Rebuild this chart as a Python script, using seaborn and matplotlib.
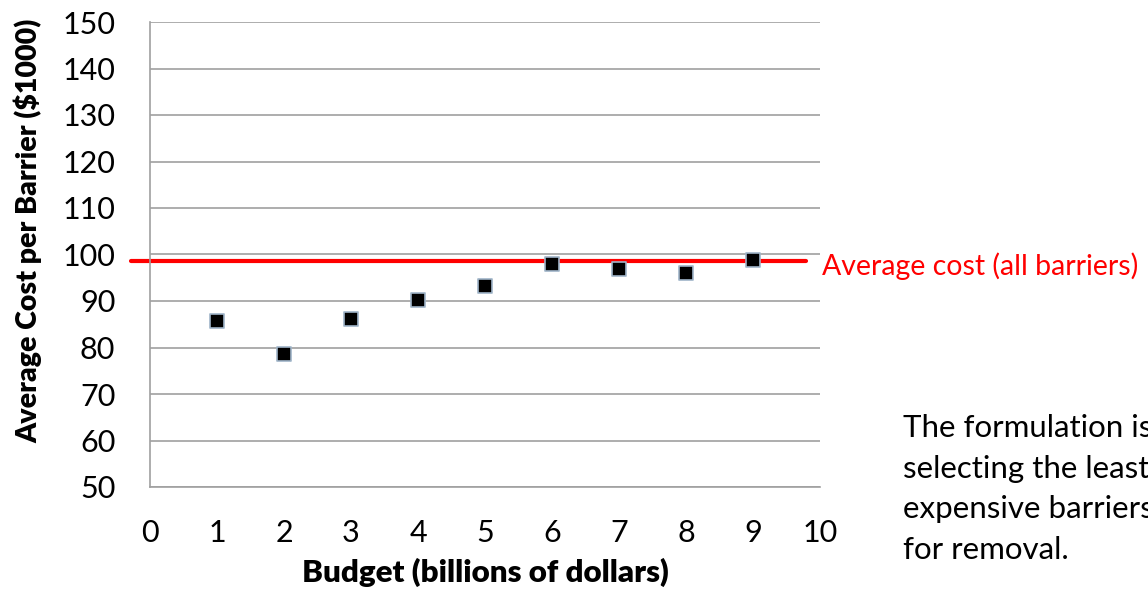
import matplotlib
matplotlib.use("Agg")
import matplotlib.pyplot as plt
import seaborn as sns
import pandas as pd

# ---- data ----
budget = [1, 2, 3, 4, 5, 6, 7, 8, 9]
avg_cost = [85.8, 78.5, 86.1, 90.3, 93.2, 97.9, 96.9, 96.0, 98.8]
avg_all_barriers = 98.5
x_ticks = list(range(0, 11))
y_ticks = list(range(50, 151, 10))

df = pd.DataFrame({"Budget": budget, "Cost": avg_cost})

sns.set_style("white")
plt.rcParams["font.family"] = ["Lato", "DejaVu Sans"]
plt.rcParams["text.color"] = "black"
plt.rcParams["axes.labelcolor"] = "black"

fig = plt.figure(figsize=(11.48, 5.90), dpi=100)
ax = fig.add_axes([150 / 1148, 1 - 487 / 590, 670 / 1148, 465 / 590])

# gridlines
for yv in y_ticks:
    ax.axhline(yv, color="#a0a0a0", lw=1.2, zorder=0)

# average line (runs slightly past the axis on the left)
ax.axhline(avg_all_barriers, xmin=-0.028, xmax=0.979, color="#ff0000", lw=3,
           clip_on=False, zorder=2)

sns.scatterplot(data=df, x="Budget", y="Cost", marker="s", s=110, color="black",
                edgecolor="#9fb4c8", linewidth=1.2, ax=ax, zorder=3, clip_on=False)

ax.set_xlim(0, 10)
ax.set_ylim(50, 150)
ax.set_xticks(x_ticks)
ax.set_yticks(y_ticks)
ax.tick_params(axis="both", labelsize=22, labelcolor="black", length=9, width=1.2,
               direction="out", color="#a0a0a0")
ax.tick_params(axis="x", pad=14)
ax.tick_params(axis="y", pad=16)

for side in ["top", "right"]:
    ax.spines[side].set_visible(False)
for side in ["left", "bottom"]:
    ax.spines[side].set_color("#a0a0a0")
    ax.spines[side].set_linewidth(1.2)

ax.set_xlabel("Budget (billions of dollars)", fontsize=22.5, fontweight="heavy", va="center")
ax.set_ylabel("Average Cost per Barrier ($1000)", fontsize=20.5, fontweight="heavy", va="center")
ax.xaxis.set_label_coords(0.5, -(572 - 487) / 465)
ax.yaxis.set_label_coords((28 - 150) / 670, (487 - 231) / 465)

fig.text(822 / 1148, 1 - 266 / 590, "Average cost (all barriers)", color="#ff0000",
         fontsize=20.5, va="center", ha="left")
fig.text(903 / 1148, 1 - 414 / 590,
         "The formulation is\nselecting the least\nexpensive barriers\nfor removal.",
         fontsize=22.5, va="top", ha="left", linespacing=1.55)

fig.savefig("out.png", dpi=100)
